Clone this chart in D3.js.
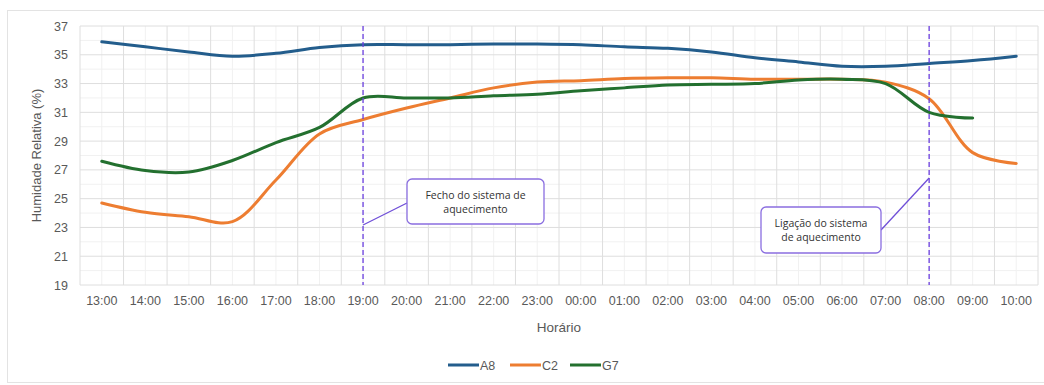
<!DOCTYPE html>
<html>
<head>
<meta charset="utf-8">
<script src="https://cdn.jsdelivr.net/npm/d3@7"></script>
<style>
  html, body { margin: 0; padding: 0; background: #fff; }
  svg { display: block; }
  text { font-family: "Liberation Sans", "Noto Sans", sans-serif; }
</style>
</head>
<body>
<svg id="chart" width="1044" height="385"></svg>
<script>
// Hourly relative humidity readings per sensor
const hours = ["13:00","14:00","15:00","16:00","17:00","18:00","19:00","20:00","21:00","22:00","23:00",
               "00:00","01:00","02:00","03:00","04:00","05:00","06:00","07:00","08:00","09:00","10:00"];
const a8 = [35.9, 35.55, 35.2, 34.9, 35.1, 35.5, 35.7, 35.7, 35.7, 35.75, 35.75,
            35.7, 35.55, 35.45, 35.2, 34.8, 34.5, 34.2, 34.2, 34.4, 34.6, 34.9];
const c2 = [24.7, 24.05, 23.75, 23.4, 26.3, 29.5, 30.5, 31.3, 32.0, 32.7, 33.1,
            33.2, 33.35, 33.4, 33.4, 33.3, 33.3, 33.3, 33.1, 31.95, 28.2, 27.45];
const g7 = [27.6, 26.95, 26.85, 27.65, 28.9, 29.95, 32.0, 32.0, 32.0, 32.15, 32.25,
            32.5, 32.7, 32.9, 32.95, 33.0, 33.25, 33.3, 33.0, 31.0, 30.6, null];
const yTicks = [19, 21, 23, 25, 27, 29, 31, 33, 35, 37];
const seriesNames = ["A8", "C2", "G7"];
const seriesColors = ["#235d8c", "#ed7d31", "#23702f"];
const events = [
  { hour: "19:00", lines: ["Fecho do sistema de", "aquecimento"] },
  { hour: "08:00", lines: ["Ligação do sistema", "de aquecimento"] }
];

const svg = d3.select("#chart");
const plot = { left: 80, right: 1038, top: 26, bottom: 285 };

// chart frame
svg.append("rect").attr("x", 7.5).attr("y", 10.5).attr("width", 1050).attr("height", 372)
  .attr("fill", "none").attr("stroke", "#e3e3e3");

const x = d3.scaleBand().domain(hours).range([plot.left, plot.right]).padding(0);
const xc = h => x(h) + x.bandwidth() / 2;
const y = d3.scaleLinear().domain([19, 37]).range([plot.bottom, plot.top]);

// gridlines: minor (odd values, category centres) then major
const grid = svg.append("g");
d3.range(20, 37, 2).forEach(v => {
  grid.append("line").attr("x1", plot.left).attr("x2", plot.right)
    .attr("y1", y(v)).attr("y2", y(v)).attr("stroke", "#f1f1f1").attr("stroke-width", 1);
});
hours.forEach(h => {
  grid.append("line").attr("x1", xc(h)).attr("x2", xc(h))
    .attr("y1", plot.top).attr("y2", plot.bottom).attr("stroke", "#f1f1f1").attr("stroke-width", 1);
});
yTicks.forEach(v => {
  grid.append("line").attr("x1", plot.left).attr("x2", plot.right)
    .attr("y1", y(v)).attr("y2", y(v)).attr("stroke", "#dedede").attr("stroke-width", 1);
});
hours.concat([null]).forEach((h, i) => {
  const xx = plot.left + i * x.bandwidth();
  grid.append("line").attr("x1", xx).attr("x2", xx)
    .attr("y1", plot.top).attr("y2", plot.bottom).attr("stroke", "#dedede").attr("stroke-width", 1);
});

// axes
const yAxis = svg.append("g").attr("transform", `translate(${plot.left},0)`)
  .call(d3.axisLeft(y).tickValues(yTicks).tickSize(0).tickPadding(12));
yAxis.select(".domain").remove();
yAxis.selectAll("text").attr("fill", "#595959").style("font-size", "12.5px");

const xAxis = svg.append("g").attr("transform", `translate(0,${plot.bottom})`)
  .call(d3.axisBottom(x).tickSize(0).tickPadding(11));
xAxis.select(".domain").remove();
xAxis.selectAll("text").attr("fill", "#595959").style("font-size", "12.5px");

svg.append("text").attr("x", (plot.left + plot.right) / 2).attr("y", 332)
  .attr("text-anchor", "middle").attr("fill", "#595959").style("font-size", "13.5px").text("Horário");
svg.append("text").attr("transform", `translate(41,${(plot.top + plot.bottom) / 2}) rotate(-90)`)
  .attr("text-anchor", "middle").attr("fill", "#595959").style("font-size", "13px")
  .text("Humidade Relativa (%)");

// series lines
const line = d3.line()
  .defined(d => d.v != null)
  .x(d => xc(d.h)).y(d => y(d.v))
  .curve(d3.curveCatmullRom.alpha(0.5));
[a8, c2, g7].forEach((vals, i) => {
  const pts = hours.map((h, j) => ({ h, v: vals[j] })).filter(d => d.v != null);
  svg.append("path").datum(pts).attr("d", line)
    .attr("fill", "none").attr("stroke", seriesColors[i]).attr("stroke-width", 3)
    .attr("stroke-linecap", "round");
});

// heating on/off markers with callouts
const purple = "#6b3fe0";
events.forEach(e => {
  svg.append("line").attr("x1", xc(e.hour)).attr("x2", xc(e.hour))
    .attr("y1", plot.top).attr("y2", plot.bottom)
    .attr("stroke", purple).attr("stroke-width", 1.3).attr("stroke-dasharray", "5,3");
});

function callout(bx, by, bw, bh, lines, lx1, ly1, lx2, ly2) {
  svg.append("line").attr("x1", lx1).attr("y1", ly1).attr("x2", lx2).attr("y2", ly2)
    .attr("stroke", "#6f4fd8").attr("stroke-width", 1.3);
  svg.append("rect").attr("x", bx).attr("y", by).attr("width", bw).attr("height", bh)
    .attr("rx", 5).attr("fill", "#fff").attr("stroke", "#8a6ee0").attr("stroke-width", 1.3);
  lines.forEach((t, i) => {
    svg.append("text").attr("x", bx + bw / 2).attr("y", by + bh / 2 + (i - 0.5) * 14 + 4)
      .attr("text-anchor", "middle").attr("fill", "#333").style("font-size", "10.5px")
      .style("font-family", "'Open Sans', sans-serif").text(t);
  });
}
const e0x = xc(events[0].hour), e1x = xc(events[1].hour);
callout(407, 179, 137, 45, events[0].lines, e0x, 225, 407, 203);
callout(761, 207, 120, 46, events[1].lines, 881, 230, e1x, 178);

// legend
const legend = svg.append("g");
const legendX = [448, 510, 570];
seriesNames.forEach((n, i) => {
  legend.append("line").attr("x1", legendX[i]).attr("x2", legendX[i] + 31)
    .attr("y1", 365).attr("y2", 365).attr("stroke", seriesColors[i]).attr("stroke-width", 3);
  legend.append("text").attr("x", legendX[i] + 32).attr("y", 369.5)
    .attr("fill", "#595959").style("font-size", "12.5px").text(n);
});
</script>
</body>
</html>
